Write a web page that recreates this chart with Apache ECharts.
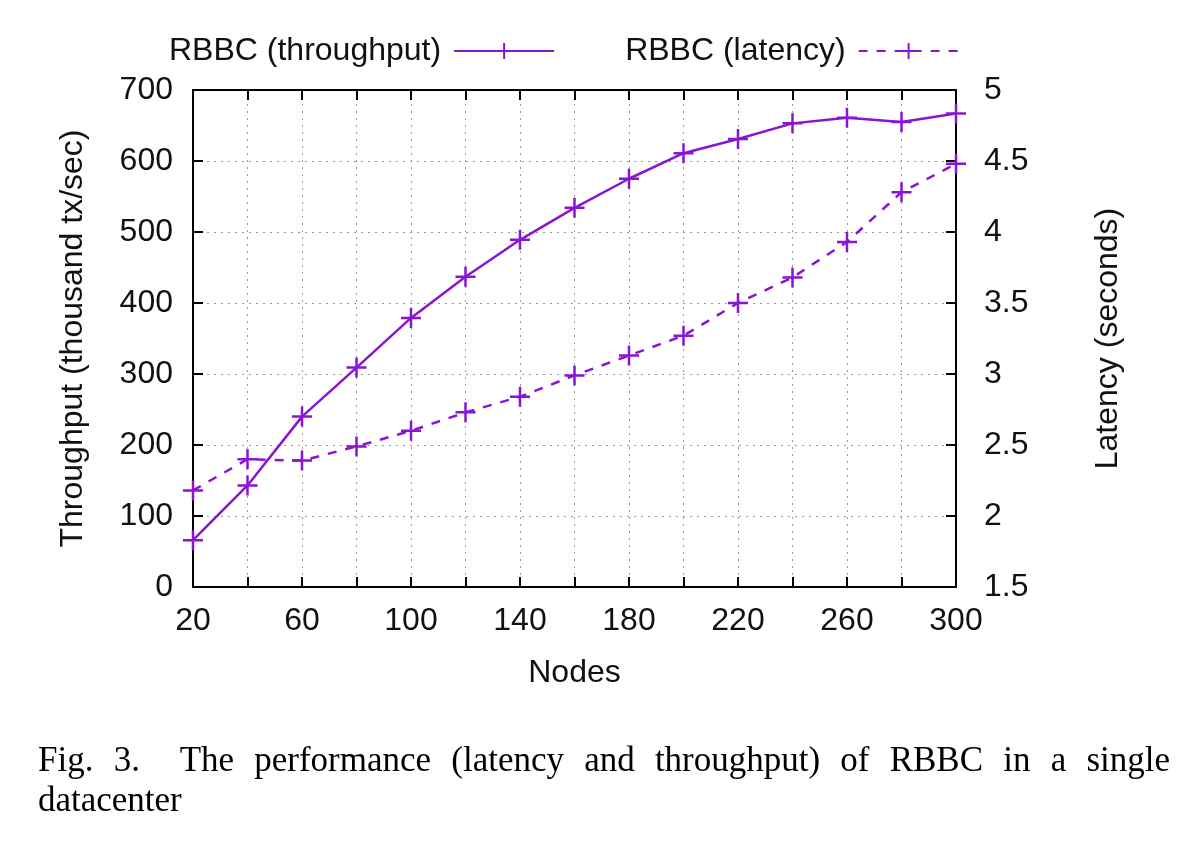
<!DOCTYPE html>
<html>
<head>
<meta charset="utf-8">
<script src="https://cdn.jsdelivr.net/npm/echarts@6/dist/echarts.min.js"></script>
<style>
  html, body { margin: 0; padding: 0; background: #fff; }
  #chart { width: 1200px; height: 855px; }
  #caption {
    position: absolute; left: 38px; top: 740px; width: 1132px;
    font-family: 'Liberation Serif', 'DejaVu Serif', serif; font-size: 35px;
    line-height: 40px; color: #000;
  }
  #caption .first { text-align: justify; text-align-last: justify; }
</style>
</head>
<body>
<div id="chart"></div>
<div id="caption">
  <div class="first">Fig. 3.&nbsp; The performance (latency and throughput) of RBBC in a single</div>
  <div>datacenter</div>
</div>
<script>
// nodes on the x axis
const nodes = [20, 40, 60, 80, 100, 120, 140, 160, 180, 200, 220, 240, 260, 280, 300];
// thousand tx/sec
const throughput = [66, 143, 240, 309, 379, 437, 489, 534, 575, 611, 631, 653, 661, 655, 667];
// seconds
const latency = [2.18, 2.40, 2.39, 2.49, 2.60, 2.73, 2.84, 2.99, 3.13, 3.27, 3.50, 3.68, 3.93, 4.28, 4.48];

const purple = '#8a14d4';
const font = "'Liberation Sans', Arial, sans-serif";
const plus = 'path://M0,10L20,10M10,0L10,20';

let chart = echarts.init(document.getElementById('chart'));

const pairs = (ys) => nodes.map((n, i) => [n, ys[i]]);

const tickStyle = { show: true, inside: true, length: 10, lineStyle: { color: '#000', width: 2 } };
const axisLine = { show: true, lineStyle: { color: '#000', width: 2 } };
const gridLine = { show: true, lineStyle: { color: '#9a9a9a', type: [2, 5], width: 1 } };

chart.setOption({
  animation: false,
  textStyle: { fontFamily: font },
  legend: {
    top: 30,
    left: 164,
    align: 'right',
    itemWidth: 100,
    itemHeight: 20,
    itemGap: 70,
    textStyle: { fontSize: 32, color: '#111', fontFamily: font, padding: [0, 8, 0, 0] },
    data: ['RBBC (throughput)', 'RBBC (latency)']
  },
  grid: { left: 193, right: 244, top: 90, bottom: 268, containLabel: false },
  xAxis: [
    {
      type: 'value', min: 20, max: 300, interval: 20,
      name: 'Nodes', nameLocation: 'middle', nameGap: 70,
      nameTextStyle: { fontSize: 32, color: '#111' },
      axisLine: axisLine, axisTick: tickStyle, splitLine: gridLine,
      axisLabel: {
        fontSize: 32, color: '#111', margin: 18,
        formatter: (v) => ((v - 20) % 40 === 0 ? String(v) : '')
      }
    },
    {
      type: 'value', position: 'top', min: 20, max: 300, interval: 20,
      axisLine: axisLine, axisTick: tickStyle, splitLine: { show: false },
      axisLabel: { show: false }
    }
  ],
  yAxis: [
    {
      type: 'value', min: 0, max: 700, interval: 100,
      name: 'Throughput (thousand tx/sec)', nameLocation: 'middle', nameGap: 104,
      nameTextStyle: { fontSize: 32, color: '#111' },
      axisLine: axisLine, axisTick: tickStyle, splitLine: gridLine,
      axisLabel: { fontSize: 32, color: '#111', margin: 20 }
    },
    {
      type: 'value', position: 'right', min: 1.5, max: 5, interval: 0.5,
      name: 'Latency (seconds)', nameLocation: 'middle', nameGap: 136, nameRotate: 90,
      nameTextStyle: { fontSize: 32, color: '#111' },
      axisLine: axisLine, axisTick: tickStyle, splitLine: { show: false },
      axisLabel: { fontSize: 32, color: '#111', margin: 28 }
    }
  ],
  series: [
    {
      name: 'RBBC (throughput)', type: 'line', xAxisIndex: 0, yAxisIndex: 0,
      data: pairs(throughput),
      symbol: plus, symbolSize: 20,
      lineStyle: { color: purple, width: 2.5 },
      itemStyle: { color: 'rgba(0,0,0,0)', borderColor: purple, borderWidth: 2.5 }
    },
    {
      name: 'RBBC (latency)', type: 'line', xAxisIndex: 0, yAxisIndex: 1,
      data: pairs(latency),
      symbol: plus, symbolSize: 20,
      lineStyle: { color: purple, width: 2.5, type: [9, 9] },
      itemStyle: { color: 'rgba(0,0,0,0)', borderColor: purple, borderWidth: 2.5 }
    }
  ]
});
</script>
</body>
</html>
